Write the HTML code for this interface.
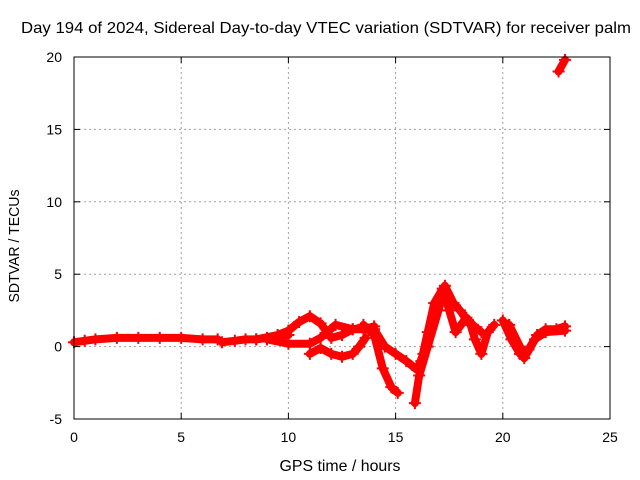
<!DOCTYPE html>
<html><head><meta charset="utf-8">
<style>
html,body{margin:0;padding:0;background:#fff;}
svg{display:block;font-family:"Liberation Sans",sans-serif;}
</style></head>
<body>
<svg id="chart" width="640" height="480" viewBox="0 0 640 480">
<rect width="640" height="480" fill="#fff"/>
<text x="326" y="33" text-anchor="middle" font-size="16" textLength="610" lengthAdjust="spacingAndGlyphs">Day 194 of 2024, Sidereal Day-to-day VTEC variation (SDTVAR) for receiver palm</text>
<g id="grid"></g>
<g id="series"></g>
<rect x="74" y="57" width="536" height="362" fill="none" stroke="#000" stroke-width="1"/>
<g id="ticks"></g>
<text x="340" y="471" text-anchor="middle" font-size="16" textLength="121" lengthAdjust="spacingAndGlyphs">GPS time / hours</text>
<text transform="translate(19,246) rotate(-90)" text-anchor="middle" font-size="15" textLength="113" lengthAdjust="spacingAndGlyphs">SDTVAR / TECUs</text>
</svg>
<script>
const xTicks=[0,5,10,15,20,25];
const yTicks=[-5,0,5,10,15,20];
const traceA_x=[0,0.5,1,2,3,4,5,6,6.7];
const traceA_y=[0.3,0.4,0.5,0.6,0.6,0.6,0.6,0.5,0.5];
const traceA2_x=[6.9,7.5,8,8.5,9,9.5,10];
const traceA2_y=[0.3,0.4,0.5,0.5,0.6,0.7,0.8];
const traceB_x=[8.5,9.5,10,10.5,11,11.5,12,12.5,13,13.5];
const traceB_y=[0.5,0.8,1.1,1.7,2.1,1.6,0.6,0.8,1.2,1.3];
const traceC_x=[9,10,11,11.5,12.2,13,13.5,14];
const traceC_y=[0.5,0.2,0.2,0.6,1.5,1.2,1.2,1.4];
const traceD_x=[11,11.5,12,12.5,13,13.3,13.6];
const traceD_y=[-0.5,-0.1,-0.5,-0.7,-0.5,0,0.6];
const traceE_x=[13.5,14,14.4,14.8,15.1];
const traceE_y=[1.5,0.8,-1.5,-2.8,-3.2];
const traceF_x=[14,14.5,15,15.5,16,16.3];
const traceF_y=[1.2,0,-0.5,-1,-1.6,-0.5];
const traceG_x=[15.9,16.1,16.5,17,17.3,17.7,18,18.5,18.7,19,19.3,19.6];
const traceG_y=[-3.9,-2,0,2.5,4.2,3,2.5,1.5,0.5,-0.5,1,1.5];
const traceH_x=[16.2,16.5,16.8,17.2,17.5,17.8,18.3,18.6,19];
const traceH_y=[-1,1,3,4,2.5,1,2,1.5,1];
const traceI_x=[20,20.4,20.8,21.2,21.6,22,22.5,22.9];
const traceI_y=[1.8,0.5,-0.5,-0.2,0.8,1.2,1.2,1.4];
const traceJ_x=[20.3,20.8,21,21.5,22,22.9];
const traceJ_y=[1.5,0,-0.8,0.5,1,1.1];
const traceK_x=[22.6,22.9];
const traceK_y=[19,19.8];
const traces=[[traceA_x,traceA_y],[traceA2_x,traceA2_y],[traceB_x,traceB_y],[traceC_x,traceC_y],[traceD_x,traceD_y],[traceE_x,traceE_y],[traceF_x,traceF_y],[traceG_x,traceG_y],[traceH_x,traceH_y],[traceI_x,traceI_y],[traceJ_x,traceJ_y],[traceK_x,traceK_y]];

const NS="http://www.w3.org/2000/svg";
function sx(v){return 74+(v-0)/25*536;}
function sy(v){return 419-(v+5)/25*362;}
const grid=document.getElementById('grid');
const ticks=document.getElementById('ticks');
const series=document.getElementById('series');
function mk(tag,attrs,parent){const e=document.createElementNS(NS,tag);for(const k in attrs)e.setAttribute(k,attrs[k]);parent.appendChild(e);return e;}
xTicks.forEach(t=>{
  const x=sx(t);
  if(t>0&&t<25){const g=mk('line',{x1:x,x2:x,y1:57,y2:419,stroke:'#a0a0a0','stroke-dasharray':'2,3'},grid);
  
  }
  mk('line',{x1:x,x2:x,y1:419,y2:413,stroke:'#000'},ticks);
  mk('line',{x1:x,x2:x,y1:57,y2:63,stroke:'#000'},ticks);
  const l=mk('text',{x:x,y:442,'text-anchor':'middle','font-size':'14'},ticks);
  l.textContent=t;
  
  
});
yTicks.forEach(t=>{
  const y=sy(t);
  if(t>-5&&t<20){const g=mk('line',{x1:74,x2:610,y1:y,y2:y,stroke:'#a0a0a0','stroke-dasharray':'2,3'},grid);
  
  }
  mk('line',{x1:74,x2:80,y1:y,y2:y,stroke:'#000'},ticks);
  mk('line',{x1:610,x2:604,y1:y,y2:y,stroke:'#000'},ticks);
  const l=mk('text',{x:62,y:y+5,'text-anchor':'end','font-size':'14'},ticks);
  l.textContent=t;
  
  
});
traces.forEach(([xs,ys])=>{
  const pts=xs.map((x,i)=>sx(x)+','+sy(ys[i])).join(' ');
  const p=mk('polyline',{points:pts,fill:'none',stroke:'#ff0000','stroke-width':'8','stroke-linejoin':'round','stroke-linecap':'round'},series);
  
  
  xs.forEach((x,i)=>{
    const cx=sx(x),cy=sy(ys[i]);
    const m=mk('path',{d:`M${cx-6},${cy}H${cx+6}M${cx},${cy-6}V${cy+6}`,stroke:'#ff0000','stroke-width':'2'},series);
    
    
  });
});
</script>
</body></html>
